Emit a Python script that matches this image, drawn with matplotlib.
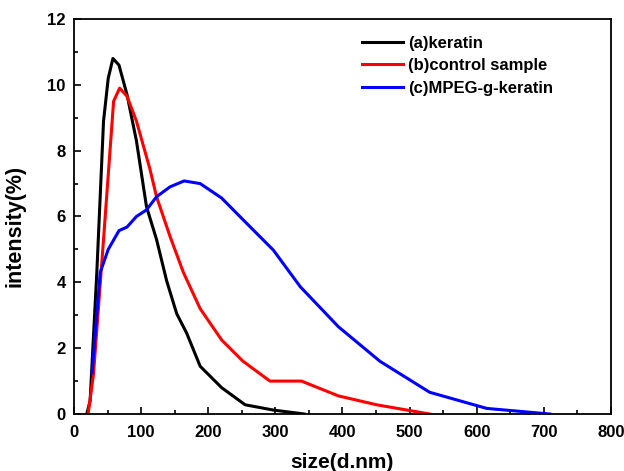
import matplotlib
matplotlib.use("Agg")
import matplotlib.pyplot as plt
from matplotlib.ticker import MultipleLocator

plt.rcParams['font.family'] = ['Liberation Sans', 'DejaVu Sans']
plt.rcParams['font.weight'] = 'bold'

# (a) keratin
x_a = [19, 24, 34, 44, 51, 58, 67, 79, 93, 108, 123, 138, 153, 168, 188, 220, 255, 297, 343]
y_a = [0, 0.4, 4.3, 8.9, 10.2, 10.8, 10.6, 9.7, 8.3, 6.3, 5.3, 4.05, 3.05, 2.45, 1.45, 0.8, 0.28, 0.12, 0]
# (b) control sample
x_b = [21, 29, 44, 59, 68, 79, 93, 113, 123, 143, 163, 188, 220, 252, 292, 339, 394, 451, 530]
y_b = [0, 1.2, 5.3, 9.5, 9.9, 9.65, 8.9, 7.45, 6.6, 5.4, 4.3, 3.2, 2.25, 1.6, 1.0, 1.0, 0.55, 0.28, 0]
# (c) MPEG-g-keratin
x_c = [27, 39, 51, 67, 79, 93, 108, 123, 143, 164, 188, 220, 252, 297, 337, 394, 456, 530, 615, 709]
y_c = [1.25, 4.3, 5.0, 5.57, 5.68, 6.0, 6.2, 6.6, 6.9, 7.08, 7.0, 6.56, 5.9, 4.98, 3.87, 2.65, 1.6, 0.66, 0.17, 0]

fig = plt.figure(figsize=(6.24, 4.71), dpi=100)
ax = fig.add_axes([0.1186, 0.121, 0.8604, 0.8387])

ax.plot(x_a, y_a, color='black', lw=2.2, label='(a)keratin')
ax.plot(x_b, y_b, color='red', lw=2.2, label='(b)control sample')
ax.plot(x_c, y_c, color='blue', lw=2.2, label='(c)MPEG-g-keratin')

ax.set_xlim(0, 800)
ax.set_ylim(0, 12)
ax.xaxis.set_major_locator(MultipleLocator(100))
ax.xaxis.set_minor_locator(MultipleLocator(50))
ax.yaxis.set_major_locator(MultipleLocator(2))
ax.yaxis.set_minor_locator(MultipleLocator(1))
ax.tick_params(which='both', direction='in', labelsize=12, width=1.2)
ax.tick_params(which='major', length=5)
ax.tick_params(which='minor', length=3)
ax.tick_params(axis='x', pad=8)
ax.tick_params(axis='y', pad=6)
for s in ax.spines.values():
    s.set_linewidth(1.3)

ax.set_xlabel('size(d.nm)', fontsize=15, fontweight='bold', labelpad=9)
ax.set_ylabel('intensity(%)', fontsize=15.5, fontweight='bold')
ax.yaxis.set_label_coords(-0.091, 0.476)

ax.legend(loc='upper left', bbox_to_anchor=(0.536, 0.958), frameon=False,
          borderpad=0, borderaxespad=0,
          fontsize=12, handlelength=2.5, labelspacing=0.45, handletextpad=0.3)

fig.savefig('out.png', dpi=100)
